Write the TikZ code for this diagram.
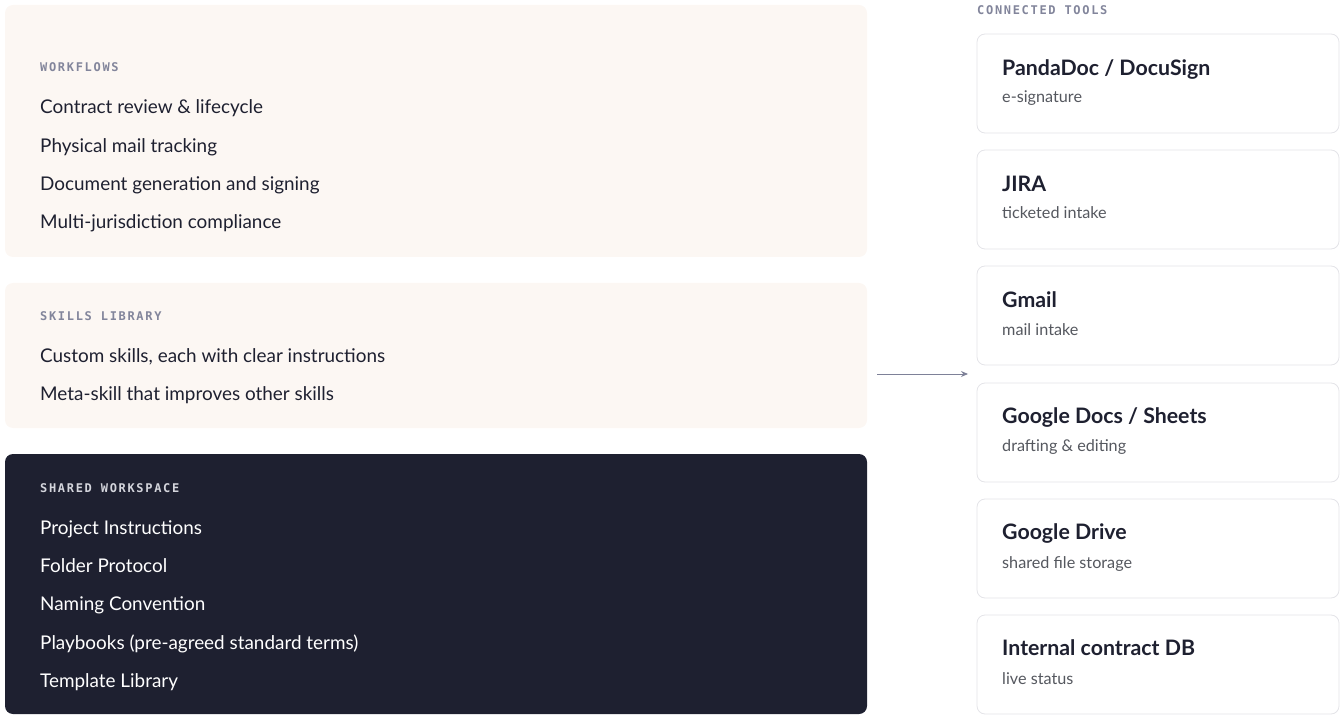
\documentclass[tikz,border=0pt]{standalone}
\usepackage{fontspec}
\setmainfont{Lato}
\newfontfamily\tagfont{DejaVu Sans Mono Bold}[LetterSpace=14]
\usetikzlibrary{arrows.meta}

\definecolor{cream}{HTML}{FCF7F3}
\definecolor{ink}{HTML}{1E2030}
\definecolor{tagGrey}{HTML}{82859B}
\definecolor{tagLight}{HTML}{D4D5DC}
\definecolor{subGrey}{HTML}{55585F}
\definecolor{cardLine}{HTML}{E4E4E8}
\definecolor{arrowGrey}{HTML}{7E8198}

\tikzset{
  panel/.style = {rounded corners=8pt},
  tag/.style = {anchor=base west, inner sep=0, font=\tagfont\fontsize{12}{14}\selectfont},
  item/.style = {anchor=base west, inner sep=0, text=ink, font=\fontsize{18.9}{22}\selectfont},
  card/.style = {draw=cardLine, fill=white, line width=0.8pt, rounded corners=8pt},
  tooltitle/.style = {anchor=base west, inner sep=0, text=ink, font=\bfseries\fontsize{21.3}{24}\selectfont},
  toolsub/.style = {anchor=base west, inner sep=0, text=subGrey, font=\fontsize{16.2}{19}\selectfont}
}

\begin{document}
\begin{tikzpicture}[x=1pt, y=-1pt]
\useasboundingbox (0,0) rectangle (1344,719);

% left column
\fill [panel, cream] (5,5) rectangle (867,257);
\node [tag, text=tagGrey] (wfTag) at (40,72) {WORKFLOWS};
\node [item] (wf1) at (40,114) {Contract review \& lifecycle};
\node [item] (wf2) at (40,152.5) {Physical mail tracking};
\node [item] (wf3) at (40,191) {Document generation and signing};
\node [item] (wf4) at (40,229) {Multi-jurisdiction compliance};

\fill [panel, cream] (5,283) rectangle (867,428);
\node [tag, text=tagGrey] (skTag) at (40,320) {SKILLS LIBRARY};
\node [item] (sk1) at (40,362.5) {Custom skills, each with clear instructions};
\node [item] (sk2) at (40,400) {Meta-skill that improves other skills};

\fill [panel, ink] (5,454) rectangle (867,714);
\node [tag, text=tagLight] (wsTag) at (40,492) {SHARED WORKSPACE};
\node [item, text=white] (ws1) at (40,534) {Project Instructions};
\node [item, text=white] (ws2) at (40,572) {Folder Protocol};
\node [item, text=white] (ws3) at (40,610.5) {Naming Convention};
\node [item, text=white] (ws4) at (40,649) {Playbooks (pre-agreed standard terms)};
\node [item, text=white] (ws5) at (40,687) {Template Library};

% right column
\node [tag, text=tagGrey] (toolTag) at (977,15) {CONNECTED TOOLS};

\draw [card] (977,34) rectangle (1339,133);
\node [tooltitle] (t1) at (1002,76) {PandaDoc / DocuSign};
\node [toolsub] (s1) at (1002,103) {e-signature};

\draw [card] (977,150) rectangle (1339,249);
\node [tooltitle] (t2) at (1002,192) {JIRA};
\node [toolsub] (s2) at (1002,219) {ticketed intake};

\draw [card] (977,266) rectangle (1339,365);
\node [tooltitle] (t3) at (1002,308) {Gmail};
\node [toolsub] (s3) at (1002,335) {mail intake};

\draw [card] (977,383) rectangle (1339,482);
\node [tooltitle] (t4) at (1002,423) {Google Docs / Sheets};
\node [toolsub] (s4) at (1002,451.5) {drafting \& editing};

\draw [card] (977,499) rectangle (1339,598);
\node [tooltitle] (t5) at (1002,539.5) {Google Drive};
\node [toolsub] (s5) at (1002,568) {shared file storage};

\draw [card] (977,615) rectangle (1339,714);
\node [tooltitle] (t6) at (1002,655.5) {Internal contract DB};
\node [toolsub] (s6) at (1002,684) {live status};

% link
\coordinate (linkL) at (877,374);
\coordinate (linkR) at (968,374);
\draw [-{Stealth[length=7pt,width=6pt]}, arrowGrey, line width=1pt] (linkL) -- (linkR);
\end{tikzpicture}
\end{document}
